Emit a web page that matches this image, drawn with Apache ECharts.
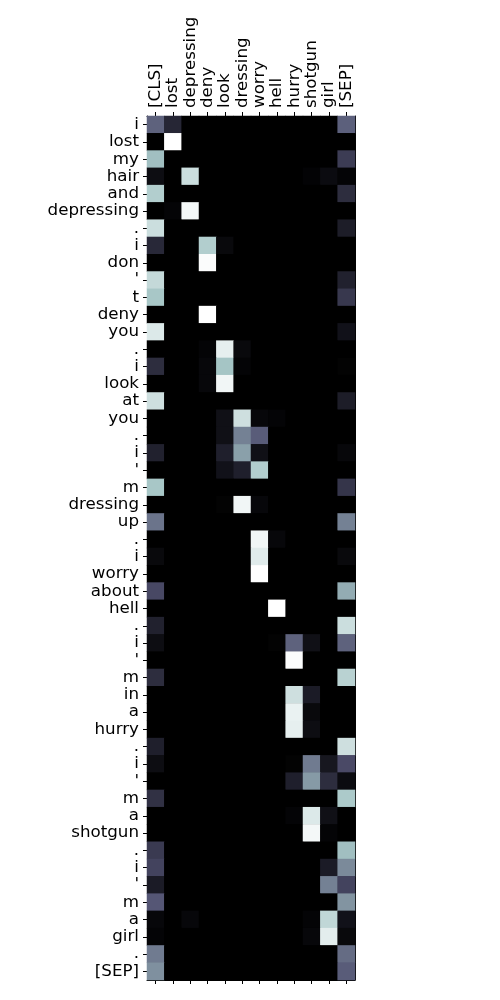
<!DOCTYPE html>
<html>
<head>
<meta charset="utf-8">
<script src="https://cdn.jsdelivr.net/npm/echarts@6/dist/echarts.min.js"></script>
<style>
  html, body { margin: 0; padding: 0; background: #fff; }
  #chart { width: 500px; height: 1000px; }
</style>
</head>
<body>
<div id="chart"></div>
<script>
// key tokens (columns)
const cols = ['[CLS]', 'lost', 'depressing', 'deny', 'look', 'dressing', 'worry', 'hell', 'hurry', 'shotgun', 'girl', '[SEP]']

// query tokens (rows)
const rows = ['i', 'lost', 'my', 'hair', 'and', 'depressing', '.', 'i', 'don', "'", 't', 'deny', 'you', '.',
  'i', 'look', 'at', 'you', '.', 'i', "'", 'm', 'dressing', 'up', '.', 'i', 'worry', 'about', 'hell', '.',
  'i', "'", 'm', 'in', 'a', 'hurry', '.', 'i', "'", 'm', 'a', 'shotgun', '.', 'i', "'", 'm', 'a', 'girl', '.', '[SEP]']

// attention weights, one row per query token
const weights = [
  [0.42, 0.17, 0, 0, 0, 0, 0, 0, 0, 0, 0, 0.41],
  [0, 1, 0, 0, 0, 0, 0, 0, 0, 0, 0, 0],
  [0.72, 0, 0, 0, 0, 0, 0, 0, 0, 0, 0, 0.27],
  [0.06, 0, 0.85, 0, 0, 0, 0, 0, 0, 0.015, 0.05, 0.02],
  [0.78, 0, 0, 0, 0, 0, 0, 0, 0, 0, 0, 0.2],
  [0, 0.02, 0.97, 0, 0, 0, 0, 0, 0, 0, 0, 0],
  [0.85, 0, 0, 0, 0, 0, 0, 0, 0, 0, 0, 0.13],
  [0.18, 0, 0, 0.78, 0.04, 0, 0, 0, 0, 0, 0, 0],
  [0, 0, 0, 0.99, 0, 0, 0, 0, 0, 0, 0, 0],
  [0.83, 0, 0, 0, 0, 0, 0, 0, 0, 0, 0, 0.15],
  [0.75, 0, 0, 0, 0, 0, 0, 0, 0, 0, 0, 0.25],
  [0, 0, 0, 1, 0, 0, 0, 0, 0, 0, 0, 0],
  [0.9, 0, 0, 0, 0, 0, 0, 0, 0, 0, 0, 0.08],
  [0, 0, 0, 0.02, 0.93, 0.04, 0, 0, 0, 0, 0, 0],
  [0.2, 0, 0, 0.03, 0.74, 0.02, 0, 0, 0, 0, 0, 0.01],
  [0, 0, 0, 0.03, 0.96, 0, 0, 0, 0, 0, 0, 0],
  [0.86, 0, 0, 0, 0, 0, 0, 0, 0, 0, 0, 0.13],
  [0, 0, 0, 0, 0.07, 0.86, 0.03, 0.02, 0, 0, 0, 0],
  [0, 0, 0, 0, 0.07, 0.52, 0.4, 0, 0, 0, 0, 0],
  [0.15, 0, 0, 0, 0.14, 0.62, 0.07, 0, 0, 0, 0, 0.03],
  [0, 0, 0, 0, 0.08, 0.14, 0.78, 0, 0, 0, 0, 0],
  [0.75, 0, 0, 0, 0, 0, 0, 0, 0, 0, 0, 0.24],
  [0, 0, 0, 0, 0.01, 0.96, 0.03, 0, 0, 0, 0, 0],
  [0.48, 0, 0, 0, 0, 0, 0, 0, 0, 0, 0, 0.52],
  [0, 0, 0, 0, 0, 0, 0.96, 0.03, 0, 0, 0, 0],
  [0.04, 0, 0, 0, 0, 0, 0.91, 0, 0, 0, 0, 0.04],
  [0, 0, 0, 0, 0, 0, 1, 0, 0, 0, 0, 0],
  [0.32, 0, 0, 0, 0, 0, 0, 0, 0, 0, 0, 0.66],
  [0, 0, 0, 0, 0, 0, 0, 1, 0, 0, 0, 0],
  [0.15, 0, 0, 0, 0, 0, 0, 0, 0, 0, 0, 0.85],
  [0.06, 0, 0, 0, 0, 0, 0, 0.01, 0.42, 0.07, 0, 0.42],
  [0, 0, 0, 0, 0, 0, 0, 0, 0.99, 0, 0, 0],
  [0.2, 0, 0, 0, 0, 0, 0, 0, 0, 0, 0, 0.8],
  [0, 0, 0, 0, 0, 0, 0, 0, 0.86, 0.12, 0, 0],
  [0, 0, 0, 0, 0, 0, 0, 0, 0.94, 0.04, 0, 0],
  [0, 0, 0, 0, 0, 0, 0, 0, 0.93, 0.06, 0, 0],
  [0.14, 0, 0, 0, 0, 0, 0, 0, 0, 0, 0, 0.86],
  [0.06, 0, 0, 0, 0, 0, 0, 0, 0.01, 0.5, 0.1, 0.33],
  [0, 0, 0, 0, 0, 0, 0, 0, 0.14, 0.6, 0.2, 0.05],
  [0.22, 0, 0, 0, 0, 0, 0, 0, 0, 0, 0, 0.76],
  [0, 0, 0, 0, 0, 0, 0, 0, 0.02, 0.9, 0.07, 0],
  [0, 0, 0, 0, 0, 0, 0, 0, 0, 0.97, 0.02, 0],
  [0.26, 0, 0, 0, 0, 0, 0, 0, 0, 0, 0, 0.72],
  [0.3, 0, 0, 0, 0, 0, 0, 0, 0, 0, 0.12, 0.55],
  [0.12, 0, 0, 0, 0, 0, 0, 0, 0, 0, 0.52, 0.3],
  [0.38, 0, 0, 0, 0, 0, 0, 0, 0, 0, 0, 0.58],
  [0.03, 0, 0.03, 0, 0, 0, 0, 0, 0, 0.02, 0.82, 0.08],
  [0.02, 0, 0, 0, 0, 0, 0, 0, 0, 0.03, 0.92, 0.04],
  [0.5, 0, 0, 0, 0, 0, 0, 0, 0, 0, 0, 0.45],
  [0.57, 0, 0, 0, 0, 0, 0, 0, 0, 0, 0, 0.4]
]

// matplotlib 'bone' colormap, piecewise linear
const lerpSeg = (segs, v) => {
  for (let i = 1; i < segs.length; i++) {
    if (v <= segs[i][0]) {
      const [x0, y0] = segs[i - 1]
      const [x1, y1] = segs[i]
      return y0 + (v - x0) * (y1 - y0) / (x1 - x0)
    }
  }
  return segs[segs.length - 1][1]
}
const boneR = [[0, 0], [0.746032, 0.652778], [1, 1]]
const boneG = [[0, 0], [0.365079, 0.319444], [0.746032, 0.777778], [1, 1]]
const boneB = [[0, 0], [0.365079, 0.444444], [1, 1]]
const boneColors = []
for (let i = 0; i <= 255; i++) {
  const v = i / 255
  const r = Math.round(lerpSeg(boneR, v) * 255)
  const g = Math.round(lerpSeg(boneG, v) * 255)
  const b = Math.round(lerpSeg(boneB, v) * 255)
  boneColors.push(`rgb(${r},${g},${b})`)
}

const cells = []
weights.forEach((row, y) => {
  row.forEach((v, x) => cells.push([x, y, v]))
})

const font = 'DejaVu Sans'
const tick = { show: true, alignWithLabel: true, interval: 0, length: 4, lineStyle: { color: '#000', width: 1 } }
const line = { show: true, lineStyle: { color: '#000', width: 1 } }

const chart = echarts.init(document.getElementById('chart'))
chart.setOption({
  backgroundColor: '#fff',
  animation: false,
  grid: { left: 147, top: 116, width: 208, height: 864, show: true, backgroundColor: '#000', borderWidth: 0 },
  xAxis: [
    {
      type: 'category',
      data: cols,
      position: 'top',
      axisLine: line,
      axisTick: tick,
      axisLabel: { rotate: -90, interval: 0, fontSize: 16.7, color: '#000', fontFamily: font, margin: 8 },
      splitLine: { show: false }
    },
    {
      type: 'category',
      data: cols,
      position: 'bottom',
      axisLine: line,
      axisTick: tick,
      axisLabel: { show: false },
      splitLine: { show: false }
    }
  ],
  yAxis: [
    {
      type: 'category',
      data: rows,
      inverse: true,
      axisLine: line,
      axisTick: tick,
      axisLabel: { interval: 0, fontSize: 16.7, color: '#000', fontFamily: font, margin: 8 },
      splitLine: { show: false }
    },
    {
      type: 'category',
      data: rows,
      inverse: true,
      position: 'right',
      axisLine: line,
      axisTick: { show: false },
      axisLabel: { show: false },
      splitLine: { show: false }
    }
  ],
  visualMap: {
    show: false,
    min: 0,
    max: 1,
    inRange: { color: boneColors }
  },
  series: [
    {
      type: 'heatmap',
      data: cells,
      itemStyle: { borderWidth: 0 },
      emphasis: { disabled: true }
    }
  ]
})
</script>
</body>
</html>
